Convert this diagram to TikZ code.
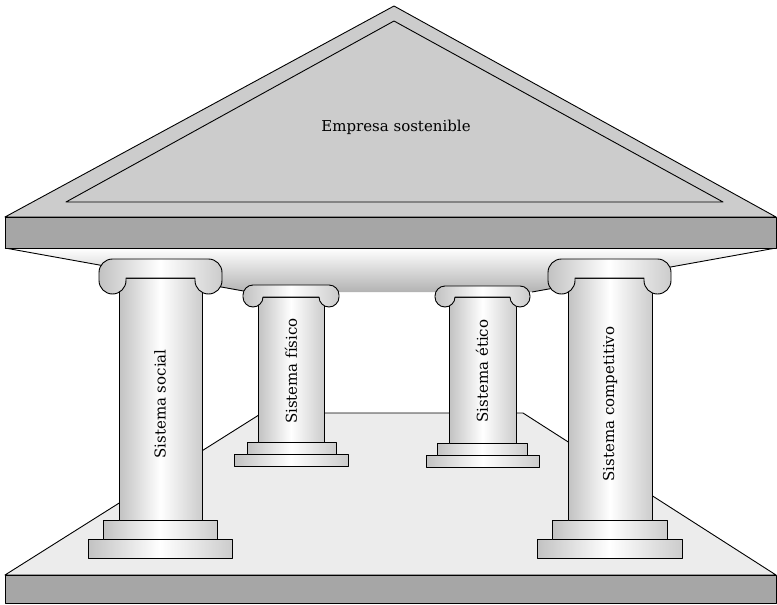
\documentclass[tikz,border=0pt]{standalone}
\usepackage{fontspec}
\setmainfont{DejaVu Serif}
% Ionic capital: left, right, top, neck, volute bottom, volute width
\newcommand\volutecap[6]{%
  \path[stone] ({#1+#6/2},#3) -- ({#2-#6/2},#3)
    .. controls ({#2-0.45*#6/2},#3) and (#2,{#3+0.45*#6/2}) .. (#2,{#3+#6/2})
    -- (#2,{#5-#6/2})
    .. controls (#2,{#5-0.45*#6/2}) and ({#2-0.45*#6/2},#5) .. ({#2-#6/2},#5)
    .. controls ({#2-1.55*#6/2},#5) and ({#2-#6},{#5-0.45*#6/2}) .. ({#2-#6},{#5-#6/2})
    -- ({#2-#6},#4) -- ({#1+#6},#4) -- ({#1+#6},{#5-#6/2})
    .. controls ({#1+#6},{#5-0.45*#6/2}) and ({#1+1.55*#6/2},#5) .. ({#1+#6/2},#5)
    .. controls ({#1+0.45*#6/2},#5) and (#1,{#5-0.45*#6/2}) .. (#1,{#5-#6/2})
    -- (#1,{#3+#6/2})
    .. controls (#1,{#3+0.45*#6/2}) and ({#1+0.45*#6/2},#3) .. ({#1+#6/2},#3) -- cycle;}
\begin{document}
\begin{tikzpicture}[x=1pt,y=-1pt,line join=round,
  edge/.style={draw=black,line width=0.9pt},
  stone/.style={edge,left color=gray!48,right color=gray!40,middle color=white},
  label/.style={font=\fontsize{15}{17}\selectfont,text=black}]
\useasboundingbox (0,0) rectangle (777,605);

% floor
\path[edge,fill=gray!15] (5,575) -- (262,413) -- (523,413) -- (776,575) -- cycle;
\path[edge,fill=gray!70] (5,575) rectangle (776,603);

% ceiling seen from below
\path[top color=white,bottom color=gray!60] (5,248) -- (776,248) -- (532,292) -- (249,292) -- cycle;
\draw[edge] (5,248) -- (249,292);
\draw[edge] (532,292) -- (776,248);

% pediment and entablature
\path[edge,fill=gray!40] (5,217) -- (394,6) -- (776,217) -- cycle;
\draw[edge] (66,202) -- (394,21) -- (723,202) -- cycle;
\path[edge,fill=gray!70] (5,217) rectangle (776,248);
\node[label] (roof) at (396,127) {Empresa sostenible};

% back columns
\path[stone] (234,454) rectangle (348,466);
\path[stone] (247,442) rectangle (336,454);
\path[stone] (258,297) rectangle (324,442);
\volutecap{243}{339}{285}{297}{307}{20}
\node[label,rotate=90] (fisico) at (291,371) {Sistema físico};

\path[stone] (426,455) rectangle (539,467);
\path[stone] (437,443) rectangle (527,455);
\path[stone] (449,297) rectangle (516,443);
\volutecap{435}{530}{286}{297}{307}{20}
\node[label,rotate=90] (etico) at (482,371) {Sistema ético};

% front columns
\path[stone] (88,539) rectangle (232,558);
\path[stone] (103,520) rectangle (217,539);
\path[stone] (119,278) rectangle (202,520);
\volutecap{99}{222}{259}{278}{294}{27}
\node[label,rotate=90] (social) at (160,404) {Sistema social};

\path[stone] (537,539) rectangle (682,558);
\path[stone] (552,520) rectangle (667,539);
\path[stone] (568,278) rectangle (652,520);
\volutecap{548}{671}{259}{278}{294}{27}
\node[label,rotate=90] (competitivo) at (610,404) {Sistema competitivo};
\end{tikzpicture}
\end{document}
